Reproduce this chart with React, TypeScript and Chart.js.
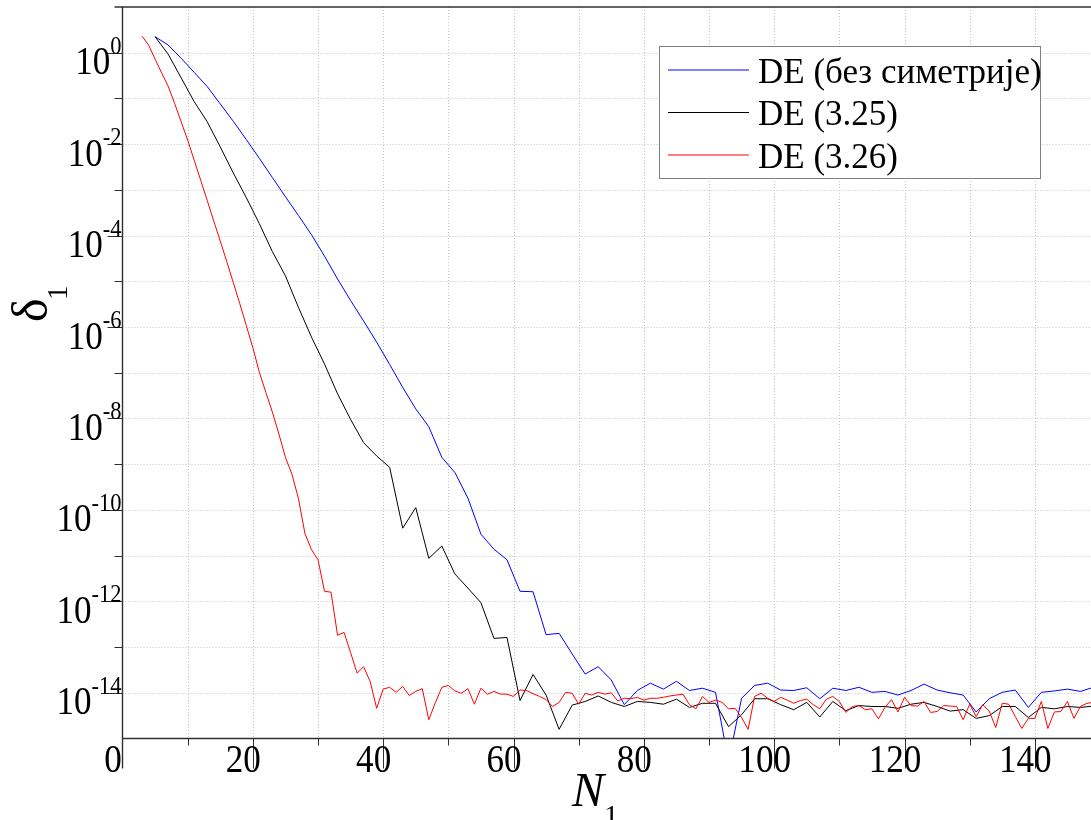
import { useEffect, useRef } from 'react';
import { Chart, registerables } from 'chart.js';

Chart.register(...registerables);

// Axis ranges
const X_MIN = 0;
const X_MAX = 150;
const Y_MIN = 1e-15;
const Y_MAX = 10;

// Tick labels
const X_TICK_LABELS = [0, 20, 40, 60, 80, 100, 120, 140];
const X_MINOR_TICKS = [10, 30, 50, 70, 90, 110, 130];
const Y_LABEL_EXPONENTS = [0, -2, -4, -6, -8, -10, -12, -14];
const Y_DECADES = [0, -1, -2, -3, -4, -5, -6, -7, -8, -9, -10, -11, -12, -13, -14];

// Series names and colours
const SERIES_LABELS = ['DE (без симетрије)', 'DE (3.25)', 'DE (3.26)'];
const SERIES_COLORS = ['#0000ff', '#000000', '#ff0000'];

// N grids: the first two series are sampled at odd N from 5, the third at every N from 3
const N_ODD: number[] = [];
for (let n = 5; n <= 149; n += 2) N_ODD.push(n);
const N_ALL: number[] = [];
for (let n = 3; n <= 150; n += 1) N_ALL.push(n);

// log10 of δ1 for each series
const LOG_DELTA_NOSYM = [
  0.35, 0.17, -0.12, -0.43, -0.74, -1.12, -1.5, -1.9, -2.31, -2.73,
  -3.15, -3.56, -3.98, -4.45, -4.95, -5.42, -5.87, -6.33, -6.82, -7.32,
  -7.79, -8.18, -8.85, -9.18, -9.74, -10.53, -10.86, -11.09, -11.78, -11.79,
  -12.73, -12.7, -13.15, -13.59, -13.43, -13.72, -14.26, -13.95, -13.79, -13.92,
  -13.75, -13.95, -13.9, -13.99, -15.5, -14.12, -13.84, -13.79, -13.94, -13.95,
  -13.89, -14.13, -13.9, -13.95, -13.88, -13.99, -13.97, -14.05, -13.95, -13.81,
  -13.94, -14.0, -14.05, -14.42, -14.13, -13.99, -13.94, -14.32, -13.99, -13.96,
  -13.92, -13.97, -13.88,
];

const LOG_DELTA_325 = [
  0.35, -0.03, -0.55, -1.07, -1.51, -2.06, -2.63, -3.17, -3.74, -4.35,
  -4.88, -5.57, -6.22, -6.81, -7.46, -8.02, -8.53, -8.82, -9.07, -10.4,
  -9.95, -11.06, -10.79, -11.4, -11.71, -12.03, -12.81, -12.79, -14.17, -13.6,
  -14.05, -14.8, -14.27, -14.19, -14.07, -14.21, -14.3, -14.19, -14.21, -14.25,
  -14.14, -14.32, -14.23, -14.23, -14.74, -14.48, -14.13, -14.13, -14.26, -14.37,
  -14.21, -14.53, -14.19, -14.39, -14.28, -14.3, -14.3, -14.34, -14.25, -14.21,
  -14.3, -14.4, -14.37, -14.56, -14.5, -14.3, -14.3, -14.54, -14.32, -14.35,
  -14.3, -14.32, -14.29,
];

const LOG_DELTA_326 = [
  0.36, 0.17, -0.14, -0.44, -0.73, -1.11, -1.51, -1.91, -2.35, -2.79,
  -3.23, -3.68, -4.12, -4.57, -5.03, -5.49, -5.97, -6.45, -6.99, -7.43,
  -7.86, -8.34, -8.85, -9.22, -9.75, -10.52, -10.87, -11.09, -11.78, -11.8,
  -12.74, -12.68, -13.12, -13.57, -13.43, -13.75, -14.34, -13.92, -13.88, -13.99,
  -13.86, -14.06, -13.97, -13.91, -14.59, -14.22, -13.88, -13.84, -13.96, -14.01,
  -13.91, -14.25, -13.9, -14.03, -13.97, -14.03, -14.03, -14.08, -13.94, -13.95,
  -14.02, -14.08, -14.15, -14.3, -14.21, -13.99, -14.01, -14.25, -14.01, -14.05,
  -13.99, -14.03, -14.0, -14.18, -14.12, -14.13, -14.1, -14.16, -14.12, -14.12,
  -14.1, -14.07, -14.05, -14.03, -14.26, -14.35, -14.08, -14.21, -14.16, -14.21,
  -14.35, -14.34, -14.54, -14.8, -14.08, -14.01, -14.12, -14.19, -14.1, -14.16,
  -14.23, -14.17, -14.14, -14.26, -14.35, -14.14, -14.08, -14.19, -14.43, -14.3,
  -14.28, -14.37, -14.35, -14.57, -14.32, -14.15, -14.42, -14.1, -14.28, -14.29,
  -14.19, -14.43, -14.41, -14.28, -14.29, -14.3, -14.59, -14.25, -14.52, -14.26,
  -14.4, -14.76, -14.23, -14.25, -14.52, -14.78, -14.56, -14.56, -14.19, -14.78,
  -14.42, -14.41, -14.19, -14.56, -14.3, -14.23, -14.21, -14.18,
];

const SERIF = '"Liberation Serif", "Times New Roman", serif';
const TICK_FONT = `39px ${SERIF}`;
const SUP_FONT = `25px ${SERIF}`;
const LEGEND_FONT = `35px ${SERIF}`;
const SQUEEZE = 0.9;

type Ctx = CanvasRenderingContext2D;

function drawText(ctx: Ctx, s: string, x: number, y: number, font: string, align: CanvasTextAlign, sx = SQUEEZE) {
  ctx.save();
  ctx.font = font;
  ctx.textAlign = align;
  ctx.textBaseline = 'alphabetic';
  ctx.fillStyle = '#000';
  ctx.translate(x, y);
  ctx.scale(sx, 1);
  ctx.fillText(s, 0, 0);
  ctx.restore();
}

function textWidth(ctx: Ctx, s: string, font: string, sx = SQUEEZE) {
  ctx.save();
  ctx.font = font;
  const w = ctx.measureText(s).width * sx;
  ctx.restore();
  return w;
}

function seg(ctx: Ctx, x1: number, y1: number, x2: number, y2: number) {
  ctx.beginPath();
  ctx.moveTo(x1, y1);
  ctx.lineTo(x2, y2);
  ctx.stroke();
}

const X_MAJOR_TICK = 30;
const X_MINOR_TICK = 7;
const Y_MAJOR_TICK = 15;
const Y_MINOR_TICK = 8;

const gridPlugin = {
  id: 'dottedGrid',
  beforeDatasetsDraw(chart: any) {
    const { ctx, chartArea: a, scales } = chart;
    const x = scales.x;
    const y = scales.y;
    ctx.save();
    ctx.strokeStyle = '#c2c2c2';
    ctx.lineWidth = 1;
    ctx.setLineDash([1, 2]);
    for (const v of [...X_MINOR_TICKS, ...X_TICK_LABELS.slice(1)]) {
      const px = Math.round(x.getPixelForValue(v)) + 0.5;
      seg(ctx, px, a.top, px, a.bottom);
    }
    for (const e of Y_DECADES) {
      const py = Math.round(y.getPixelForValue(Math.pow(10, e))) + 0.5;
      seg(ctx, a.left, py, a.right, py);
    }
    ctx.restore();
  },
};

const framePlugin = {
  id: 'frameAndLabels',
  afterDatasetsDraw(chart: any) {
    const { ctx, chartArea: a, scales } = chart;
    const x = scales.x;
    const y = scales.y;
    ctx.save();
    ctx.setLineDash([]);
    ctx.strokeStyle = '#303030';

    // axis lines and top border
    ctx.lineWidth = 1.4;
    seg(ctx, a.left, a.top - 0.5, a.left, a.bottom + X_MAJOR_TICK);
    seg(ctx, a.left - 0.5, a.bottom, a.right, a.bottom);
    seg(ctx, a.left - Y_MINOR_TICK, a.top, a.right, a.top);

    // x ticks
    ctx.lineWidth = 1;
    for (const v of X_MINOR_TICKS) {
      const px = Math.round(x.getPixelForValue(v)) + 0.5;
      seg(ctx, px, a.bottom, px, a.bottom + X_MINOR_TICK);
    }
    for (const v of X_TICK_LABELS.slice(1)) {
      const px = Math.round(x.getPixelForValue(v)) + 0.5;
      seg(ctx, px, a.bottom, px, a.bottom + X_MAJOR_TICK);
    }
    // y ticks
    for (const e of Y_DECADES) {
      const py = Math.round(y.getPixelForValue(Math.pow(10, e))) + 0.5;
      const len = Y_LABEL_EXPONENTS.includes(e) ? Y_MAJOR_TICK : Y_MINOR_TICK;
      seg(ctx, a.left - len, py, a.left, py);
    }

    // x tick labels
    for (const v of X_TICK_LABELS) {
      const px = x.getPixelForValue(v);
      drawText(ctx, String(v), px - 9.5, a.bottom + 33, TICK_FONT, 'center');
    }
    // y tick labels: 10 with a raised exponent
    for (const e of Y_LABEL_EXPONENTS) {
      const py = y.getPixelForValue(Math.pow(10, e));
      const sup = String(e);
      const right = a.left - 1;
      const sw = textWidth(ctx, sup, SUP_FONT);
      drawText(ctx, sup, right, py + 1, SUP_FONT, 'right');
      drawText(ctx, '10', right - sw, py + 21.5, TICK_FONT, 'right');
    }

    // y title: δ with subscript 1, rotated
    ctx.save();
    ctx.translate(46.5, 322);
    ctx.rotate(-Math.PI / 2);
    ctx.fillStyle = '#000';
    ctx.textAlign = 'left';
    ctx.textBaseline = 'alphabetic';
    ctx.font = `50px ${SERIF}`;
    ctx.fillText('δ', 0, 0);
    ctx.font = `29px ${SERIF}`;
    ctx.fillText('1', 22, 20);
    ctx.restore();

    // x title: N with subscript 1
    ctx.save();
    ctx.fillStyle = '#000';
    ctx.textAlign = 'left';
    ctx.textBaseline = 'alphabetic';
    ctx.font = `italic 48px ${SERIF}`;
    ctx.fillText('N', 572, 806);
    ctx.font = `29px ${SERIF}`;
    ctx.fillText('1', 604, 825);
    ctx.restore();

    ctx.restore();
  },
  afterDraw(chart: any) {
    const { ctx } = chart;
    ctx.save();
    // legend box
    const bx = 659.5, by = 46.5, bw = 381, bh = 132;
    ctx.fillStyle = '#ffffff';
    ctx.fillRect(bx, by, bw, bh);
    ctx.strokeStyle = '#808080';
    ctx.lineWidth = 1;
    ctx.strokeRect(bx, by, bw, bh);
    const rows = [70, 112.5, 155];
    const baselines = [82.5, 125, 167.5];
    chart.data.datasets.forEach((ds: any, i: number) => {
      ctx.strokeStyle = ds.borderColor;
      ctx.lineWidth = 1;
      seg(ctx, 668, rows[i], 749, rows[i]);
      drawText(ctx, ds.label, 758, baselines[i], LEGEND_FONT, 'left', 1);
    });
    ctx.restore();
  },
};

export default function App() {
  const canvasRef = useRef<HTMLCanvasElement | null>(null);

  useEffect(() => {
    const canvas = canvasRef.current;
    if (!canvas) return;
    const seriesN = [N_ODD, N_ODD, N_ALL];
    const seriesLog = [LOG_DELTA_NOSYM, LOG_DELTA_325, LOG_DELTA_326];
    const datasets = SERIES_LABELS.map((label, i) => ({
      label,
      data: seriesLog[i].map((lg, k) => ({ x: seriesN[i][k], y: Math.pow(10, lg) })),
      borderColor: SERIES_COLORS[i],
      backgroundColor: SERIES_COLORS[i],
      borderWidth: 1,
      pointRadius: 0,
      tension: 0,
      fill: false,
      order: 3 - i,
    }));

    const chart = new Chart(canvas, {
      type: 'line',
      data: { datasets },
      options: {
        animation: false,
        responsive: false,
        devicePixelRatio: 1,
        events: [],
        layout: { padding: { top: 7, left: 0, right: 0, bottom: 0 } },
        plugins: { legend: { display: false }, tooltip: { enabled: false } },
        scales: {
          x: {
            type: 'linear',
            min: X_MIN,
            max: X_MAX,
            grid: { display: false },
            border: { display: false },
            ticks: { display: false },
            afterFit: (s: any) => {
              s.height = 81.5;
            },
          },
          y: {
            type: 'logarithmic',
            min: Y_MIN,
            max: Y_MAX,
            grid: { display: false },
            border: { display: false },
            ticks: { display: false },
            afterFit: (s: any) => {
              s.width = 122.5;
            },
          },
        },
      },
      plugins: [gridPlugin, framePlugin],
    } as any);

    return () => chart.destroy();
  }, []);

  return (
    <div
      style={{
        position: 'fixed',
        left: 0,
        top: 0,
        width: 1091,
        height: 820,
        overflow: 'hidden',
        background: '#ffffff',
      }}
    >
      <canvas ref={canvasRef} width={1100} height={820} style={{ width: 1100, height: 820, display: 'block' }} />
    </div>
  );
}
